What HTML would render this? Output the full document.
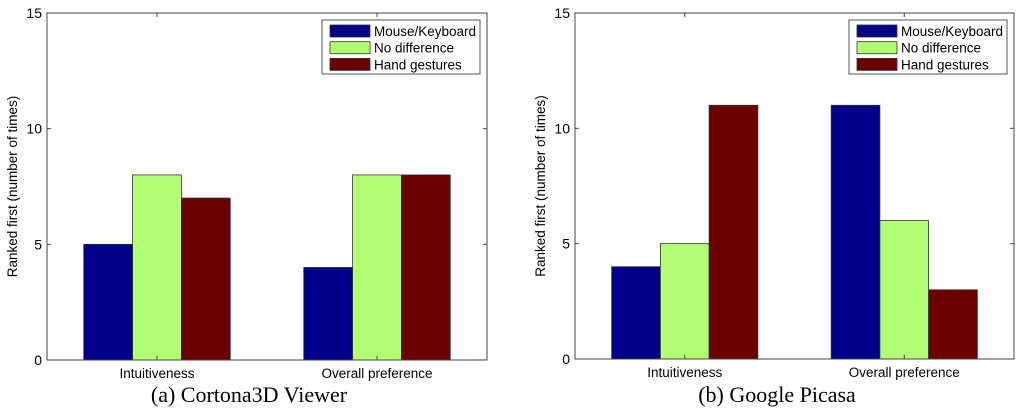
<!DOCTYPE html>
<html><head><meta charset="utf-8"><style>
body{margin:0;background:#fff;width:1024px;height:415px;overflow:hidden}
svg{display:block}
text{font-family:"Liberation Sans",sans-serif;fill:#000}
</style></head><body>
<svg id="s" width="1024" height="415"></svg>
<script>
const categories=["Intuitiveness","Overall preference"];
const seriesNames=["Mouse/Keyboard","No difference","Hand gestures"];
const colors=["#00008b","#b3ff73","#6b0000"];
const cortonaMouse=[5,4];
const cortonaNoDiff=[8,8];
const cortonaHand=[7,8];
const picasaMouse=[4,11];
const picasaNoDiff=[5,6];
const picasaHand=[11,3];
const yTicks=[0,5,10,15];
const NS="http://www.w3.org/2000/svg";
const svg=document.getElementById('s');
function mk(t,a,p){const e=document.createElementNS(NS,t);for(const k in a)e.setAttribute(k,a[k]);(p||svg).appendChild(e);return e;}
function chart(name,x0,x1,y0,y1,series,caption,capX){
  const g=mk('g',{});
  
  
  const xs=v=>x0+(v-0.5)/2*(x1-x0);
  const ys=v=>y1-v/15*(y1-y0);
  const bw=0.222;
  const bwPx=bw*(x1-x0)/2;
  series.forEach((vals,si)=>{
    vals.forEach((v,ci)=>{
      const cx=xs(ci+1+(si-1)*bw);
      const r=mk('rect',{x:cx-bwPx/2,y:ys(v),width:bwPx,height:ys(0)-ys(v),fill:colors[si],stroke:'#333','stroke-width':0.8},g);
      
      
    });
  });
  mk('rect',{x:x0,y:y0,width:x1-x0,height:y1-y0,fill:'none',stroke:'#444','stroke-width':1},g);
  yTicks.forEach(t=>{
    mk('line',{x1:x0,x2:x0+4,y1:ys(t),y2:ys(t),stroke:'#444'},g);
    mk('line',{x1:x1,x2:x1-4,y1:ys(t),y2:ys(t),stroke:'#444'},g);
    const tx=mk('text',{x:x0-5,y:ys(t)+5,'text-anchor':'end','font-size':14},g);tx.textContent=t;
    
    
  });
  categories.forEach((c,ci)=>{
    mk('line',{x1:xs(ci+1),x2:xs(ci+1),y1:y1,y2:y1-4,stroke:'#444'},g);
    mk('line',{x1:xs(ci+1),x2:xs(ci+1),y1:y0,y2:y0+4,stroke:'#444'},g);
    const tx=mk('text',{x:xs(ci+1),y:y1+18,'text-anchor':'middle','font-size':13.5},g);tx.textContent=c;
    
    
  });
  const yt=mk('text',{transform:`translate(${x0-30},${(y0+y1)/2}) rotate(-90)`,'text-anchor':'middle','font-size':13.5},g);
  yt.textContent='Ranked first (number of times)';
  
  
  const lx=x1-165,ly=y0+7;
  const lg=mk('g',{},g);
  
  
  mk('rect',{x:lx,y:ly,width:158,height:54,fill:'#fff',stroke:'#555'},lg);
  seriesNames.forEach((n,i)=>{
    const e=mk('g',{},lg);
    
    
    mk('rect',{x:lx+8,y:ly+5+i*16.7,width:40,height:12,fill:colors[i],stroke:'#333','stroke-width':0.8},e);
    const t=mk('text',{x:lx+52,y:ly+16+i*16.7,'font-size':13.5},e);t.textContent=n;
  });
  const cp=mk('text',{x:capX,y:402,'text-anchor':'middle','font-size':22,style:'font-family:"Liberation Serif",serif'},g);
  cp.textContent=caption;
  
  
}
chart('chart-cortona',47,487,13,360,[cortonaMouse,cortonaNoDiff,cortonaHand],'(a) Cortona3D Viewer',249);
chart('chart-picasa',575,1014,13,359,[picasaMouse,picasaNoDiff,picasaHand],'(b) Google Picasa',777);
</script>
</body></html>
